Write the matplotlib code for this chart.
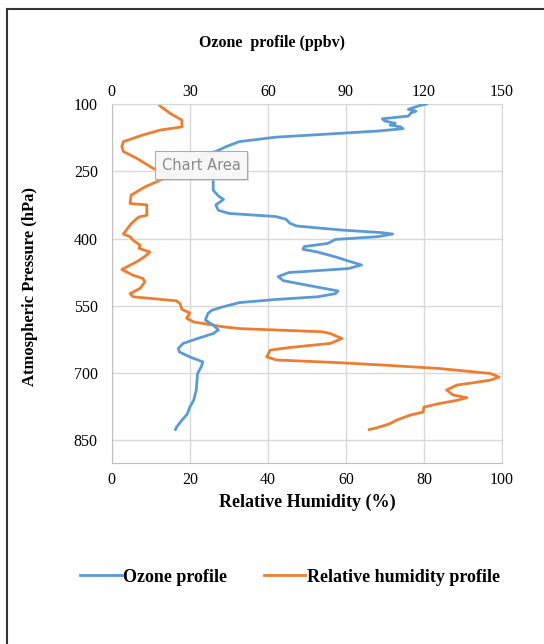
import matplotlib.pyplot as plt
from matplotlib.lines import Line2D

# ozone sonde profile (ppbv) vs pressure (hPa)
ozone_p = [100, 104, 108, 112, 116, 120, 127, 133, 138, 143, 147, 151, 155, 160, 165, 174,
           184, 195, 206, 214, 221, 229, 240, 255, 292, 305, 313, 325, 337, 344, 351, 357,
           366, 372, 381, 387, 390, 396, 402, 411, 418, 424, 430, 441, 452, 459, 467, 476,
           485, 494, 504, 517, 523, 530, 536, 543, 552, 560, 567, 582, 593, 604, 612, 623,
           634, 645, 653, 664, 675, 685, 701, 738, 761, 776, 792, 805, 820, 826]
ozone = [121, 118, 116, 114, 117, 115, 114, 104, 105, 109, 107, 111, 112, 103, 89, 63,
         49, 44, 40, 35, 34.5, 37.8, 39, 39, 39, 41, 43, 40, 41, 45, 63, 67,
         68.5, 71, 88, 104, 108, 102, 86, 83, 74, 73.5, 79, 86, 92, 96, 91, 68,
         64, 66, 75, 87, 86, 79, 63, 49, 43, 38.5, 37, 36, 39, 41, 39, 33,
         27.5, 25.6, 26, 30, 35, 34.5, 33, 32.5, 31.5, 30, 29, 27, 25, 24.5]

# relative humidity (%) vs pressure (hPa)
rh_p = [100, 105, 121, 136, 151, 158, 169, 184, 195, 206, 221, 244, 255, 258, 262, 270,
        285, 303, 322, 325, 348, 352, 355, 366, 378, 390, 396, 404, 415, 422, 430, 440,
        452, 469, 482, 489, 497, 511, 523, 530, 539, 545, 558, 566, 578, 586, 597, 601,
        608, 612, 623, 634, 643, 649, 664, 671, 677, 683, 690, 701, 709, 716, 727, 738,
        749, 755, 761, 768, 776, 787, 794, 805, 813, 822, 826]
rh = [12, 12.5, 15, 18, 18, 12.5, 8, 3, 2.6, 3, 6.4, 10.7, 14, 16.5, 15, 12.4,
      8.5, 5, 4.7, 9, 9, 7, 6.5, 5.1, 4, 3, 4.7, 5.5, 7.3, 7, 9.8, 8.5,
      6.4, 2.6, 5.5, 8, 8.5, 7.3, 4.7, 5.5, 16.6, 17.5, 18, 20, 19.2, 21, 28.6, 33,
      54, 56, 59, 56, 45.7, 40.6, 39.7, 42.3, 58.5, 71, 84, 97, 99.3, 97, 88.4, 85.8,
      87.5, 91, 88.4, 84, 80, 79.8, 76.4, 73, 71.3, 68, 66]

p_ticks = [100, 250, 400, 550, 700, 850]
rh_ticks = [0, 20, 40, 60, 80, 100]
ozone_ticks = [0, 30, 60, 90, 120, 150]

blue = '#5b9bd5'
orange = '#ed7d31'
serif = 'Liberation Serif'

W, H = 544, 644
fig = plt.figure(figsize=(W / 100, H / 100), dpi=100)

ax = fig.add_axes([111.7 / W, 1 - 462.7 / H, (502 - 111.7) / W, (462.7 - 104) / H])
ax.set_xlim(0, 100)
ax.set_ylim(900, 100)
ax.set_xticks(rh_ticks)
ax.set_yticks(p_ticks)
ax.grid(True, color='#d9d9d9', lw=1)
ax.set_axisbelow(True)
for s in ax.spines.values():
    s.set_color('#d9d9d9')
ax.spines['left'].set_color('#bfbfbf')
ax.spines['bottom'].set_color('#bfbfbf')
ax.tick_params(length=0, labelsize=11.5)
ax.tick_params(axis='x', pad=7)
ax.tick_params(axis='y', pad=10)
for lab in ax.get_xticklabels() + ax.get_yticklabels():
    lab.set_fontfamily(serif)
ax.set_xlabel('Relative Humidity (%)', fontfamily=serif, fontweight='bold', fontsize=13, labelpad=4)

ax2 = ax.twiny()
ax2.set_xlim(0, 150)
ax2.set_xticks(ozone_ticks)
ax2.tick_params(length=0, labelsize=11.5, pad=3)
for lab in ax2.get_xticklabels():
    lab.set_fontfamily(serif)
for s in ax2.spines.values():
    s.set_visible(False)

l_rh, = ax.plot(rh, rh_p, color=orange, lw=2, label='Relative humidity profile')
l_oz, = ax2.plot(ozone, ozone_p, color=blue, lw=2, label='Ozone profile')

fig.text(272 / W, 1 - 43 / H, 'Ozone  profile (ppbv)', ha='center', va='center',
         fontfamily=serif, fontweight='bold', fontsize=11.5)
fig.text(30 / W, 1 - 287 / H, 'Atmospheric Pressure (hPa)', ha='center', va='center',
         rotation=90, fontfamily=serif, fontweight='bold', fontsize=12)

fig.legend(handles=[l_oz, l_rh], loc='center', bbox_to_anchor=(290 / W, 1 - 577 / H),
           ncol=2, frameon=False, handlelength=2.3, handletextpad=0.1, columnspacing=2.0,
           prop={'family': serif, 'weight': 'bold', 'size': 13})

# hover tooltip left in the chart, with a soft drop shadow
fig.text(203 / W, 1 - 167 / H, 'Chart Area', ha='center', va='center', fontsize=10.5,
         color='#c8c8c8', family='DejaVu Sans', alpha=0.0,
         bbox=dict(boxstyle='square,pad=0.45', facecolor='#bdbdbd', edgecolor='none',
                   alpha=0.5))
fig.text(201 / W, 1 - 165 / H, 'Chart Area', ha='center', va='center', fontsize=10.5,
         color='#8a8a8a', family='DejaVu Sans',
         bbox=dict(boxstyle='square,pad=0.45', facecolor='#fafafa', edgecolor='#a6a6a6',
                   alpha=0.92, lw=0.8))

# outer frame
fig.add_artist(Line2D([7 / W, 1], [1 - 9 / H, 1 - 9 / H], transform=fig.transFigure,
                      color='#333333', lw=1.5))
fig.add_artist(Line2D([7 / W, 7 / W], [0, 1 - 9 / H], transform=fig.transFigure,
                      color='#333333', lw=1.5))

fig.savefig('out.png', dpi=100)
